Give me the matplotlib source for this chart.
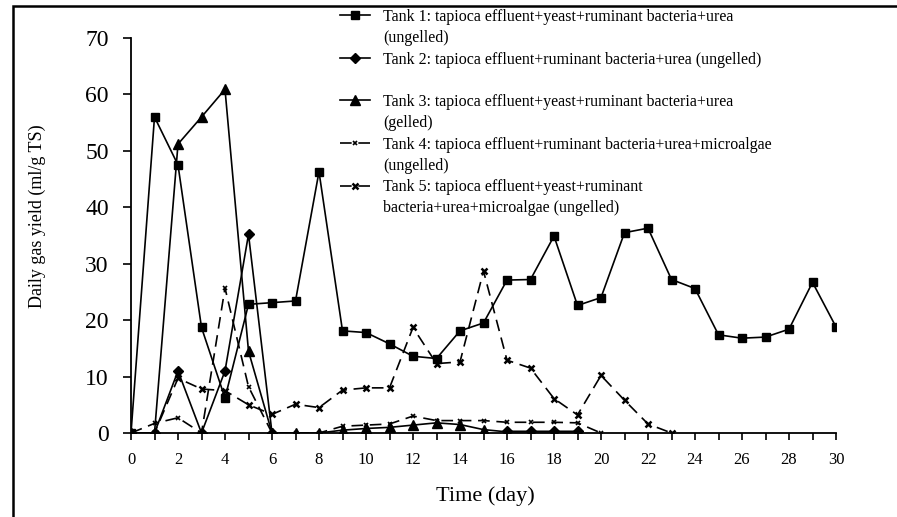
import numpy as np
import matplotlib
matplotlib.use("Agg")
import matplotlib.pyplot as plt
from matplotlib.lines import Line2D
from matplotlib.patches import Rectangle
from matplotlib.ticker import MultipleLocator

plt.rcParams['font.family'] = ['Liberation Serif', 'DejaVu Serif']

nan = np.nan

# daily gas yield (ml/g TS) per tank, indexed by day
tank1 = [0, 56.0, 47.5, 18.7, 6.2, 22.8, 23.1, 23.4, 46.3, 18.1, 17.8, 15.8,
         13.6, 13.2, 18.1, 19.5, 27.1, 27.2, 34.9, 22.6, 24.0, 35.5, 36.3,
         27.2, 25.6, 17.4, 16.8, 17.0, 18.4, 26.7, 18.8]
tank2 = [0, 0, 11.0, 0, 11.0, 35.2, 0, nan, nan, nan, nan, nan, nan, nan,
         nan, nan, 0.3, 0.3, 0.3, 0.3]
tank3 = [0, 0, 51.2, 56.0, 60.9, 14.5, 0, 0, 0, 0.5, 0.8, 1.0, 1.4, 1.8,
         1.5, 0.6, 0.2, 0.2, 0.2, 0.2]
tank4 = [0, 1.7, 2.7, 0, 25.7, 8.2, 0, 0, 0, 1.2, 1.4, 1.6, 3.0, 2.2, 2.2,
         2.2, 1.9, 1.9, 1.9, 1.8, 0]
tank5 = [0, 0, 9.7, 7.8, 7.5, 5.0, 3.3, 5.1, 4.5, 7.6, 8.0, 8.0, 18.7, 12.3,
         12.6, 28.7, 12.9, 11.5, 6.1, 3.2, 10.2, 5.8, 1.6, 0]

labels = [
    "Tank 1: tapioca effluent+yeast+ruminant bacteria+urea",
    "(ungelled)",
    "Tank 2: tapioca effluent+ruminant bacteria+urea (ungelled)",
    " ",
    "Tank 3: tapioca effluent+yeast+ruminant bacteria+urea",
    "(gelled)",
    "Tank 4: tapioca effluent+ruminant bacteria+urea+microalgae",
    "(ungelled)",
    "Tank 5: tapioca effluent+yeast+ruminant",
    "bacteria+urea+microalgae (ungelled)",
]

fig = plt.figure(figsize=(8.97, 5.17), dpi=100)
ax = fig.add_axes([131/897, 84/517, 705/897, 395/517])

lw = 1.2
h1, = ax.plot(range(len(tank1)), tank1, color='black', lw=lw, marker='s', ms=5.5)
h2, = ax.plot(range(len(tank2)), tank2, color='black', lw=lw, marker='D', ms=5)
h3, = ax.plot(range(len(tank3)), tank3, color='black', lw=lw, marker='^', ms=6.5)
h4, = ax.plot(range(len(tank4)), tank4, color='black', lw=lw, marker='x', ms=3.5,
              mew=1.2, dashes=(7, 4))
h5, = ax.plot(range(len(tank5)), tank5, color='black', lw=lw, marker='x', ms=4,
              mew=1.8, dashes=(7, 4))

ax.set_xlim(0, 30)
ax.set_ylim(0, 70)
ax.xaxis.set_major_locator(MultipleLocator(2))
ax.xaxis.set_minor_locator(MultipleLocator(1))
ax.yaxis.set_major_locator(MultipleLocator(10))
ax.tick_params(axis='x', which='both', direction='out', length=5, width=1.2,
               labelsize=12, pad=9)
ax.tick_params(axis='y', direction='out', length=6, width=1.2, labelsize=17, pad=10)
for s in ['top', 'right']:
    ax.spines[s].set_visible(False)
for s in ['left', 'bottom']:
    ax.spines[s].set_linewidth(1.3)

ax.set_xlabel("Time (day)", fontsize=16)
ax.xaxis.set_label_coords(0.503, -0.135)
ax.set_ylabel("Daily gas yield (ml/g TS)", fontsize=13)
ax.yaxis.set_label_coords(-0.12, 0.55)

blank = Line2D([], [], color='none')
handles = [h1, blank, h2, blank, h3, blank, h4, blank, h5, blank]
fig.legend(handles, labels, loc='upper left', bbox_to_anchor=(340/897, 1 - 9/517),
           bbox_transform=fig.transFigure, frameon=False, fontsize=11.5,
           handlelength=1.9, handletextpad=0.8, labelspacing=0.33,
           borderpad=0, borderaxespad=0)

# outer frame
fig.add_artist(Rectangle((13/897, -0.5), 2, 0.5 + (517 - 6)/517, transform=fig.transFigure,
                         fill=False, lw=1.8, ec='black'))

fig.savefig('out.png', dpi=100)
